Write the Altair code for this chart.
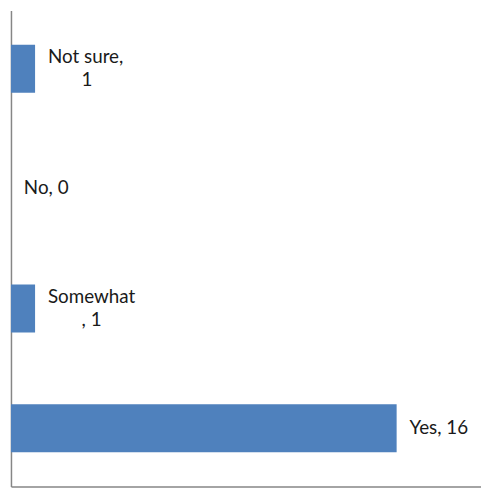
import altair as alt
import pandas as pd

categories = ["Not sure", "No", "Somewhat", "Yes"]
values = [1, 0, 1, 16]
label_line1 = ["Not sure,", "No, 0", "Somewhat", "Yes, 16"]
label_line2 = ["1", "", ", 1", ""]

pad = "\u200b" + "\u00a0" * 7
labels = [a + ("\n" + pad + b if b else "") for a, b in zip(label_line1, label_line2)]
nlines = [2 if b else 1 for b in label_line2]
df = pd.DataFrame({"category": categories, "value": values, "label": labels, "nlines": nlines})

axis_color = "#868686"

base = alt.Chart(df).encode(
    y=alt.Y(
        "category:N",
        sort=categories,
        scale=alt.Scale(paddingInner=0.6, paddingOuter=0.285),
        axis=alt.Axis(labels=False, ticks=False, title=None, grid=False,
                      domainColor=axis_color, domainWidth=1.5),
    ),
)

bars = base.mark_bar(color="#4F81BD").encode(
    x=alt.X(
        "value:Q",
        scale=alt.Scale(domain=[0, 19.5], nice=False),
        axis=alt.Axis(labels=False, ticks=False, title=None, grid=False,
                      domainColor=axis_color, domainWidth=1.5),
    )
)

text_style = dict(align="left", baseline="middle", dx=13, lineBreak="\n",
                  font="Lato", fontSize=19, lineHeight=24, color="#1a1a1a")

text1 = base.transform_filter("datum.nlines == 1").mark_text(**text_style).encode(
    x="value:Q", text="label:N")
text2 = base.transform_filter("datum.nlines == 2").mark_text(dy=-12, **text_style).encode(
    x="value:Q", text="label:N")

chart = (bars + text1 + text2).properties(
    width=475, height=481,
    padding={"left": 3, "top": 0, "right": 0, "bottom": 1},
    autosize="none",
).configure_view(stroke=None)

chart.save("out.html", embed_options={"renderer": "svg", "actions": False})
